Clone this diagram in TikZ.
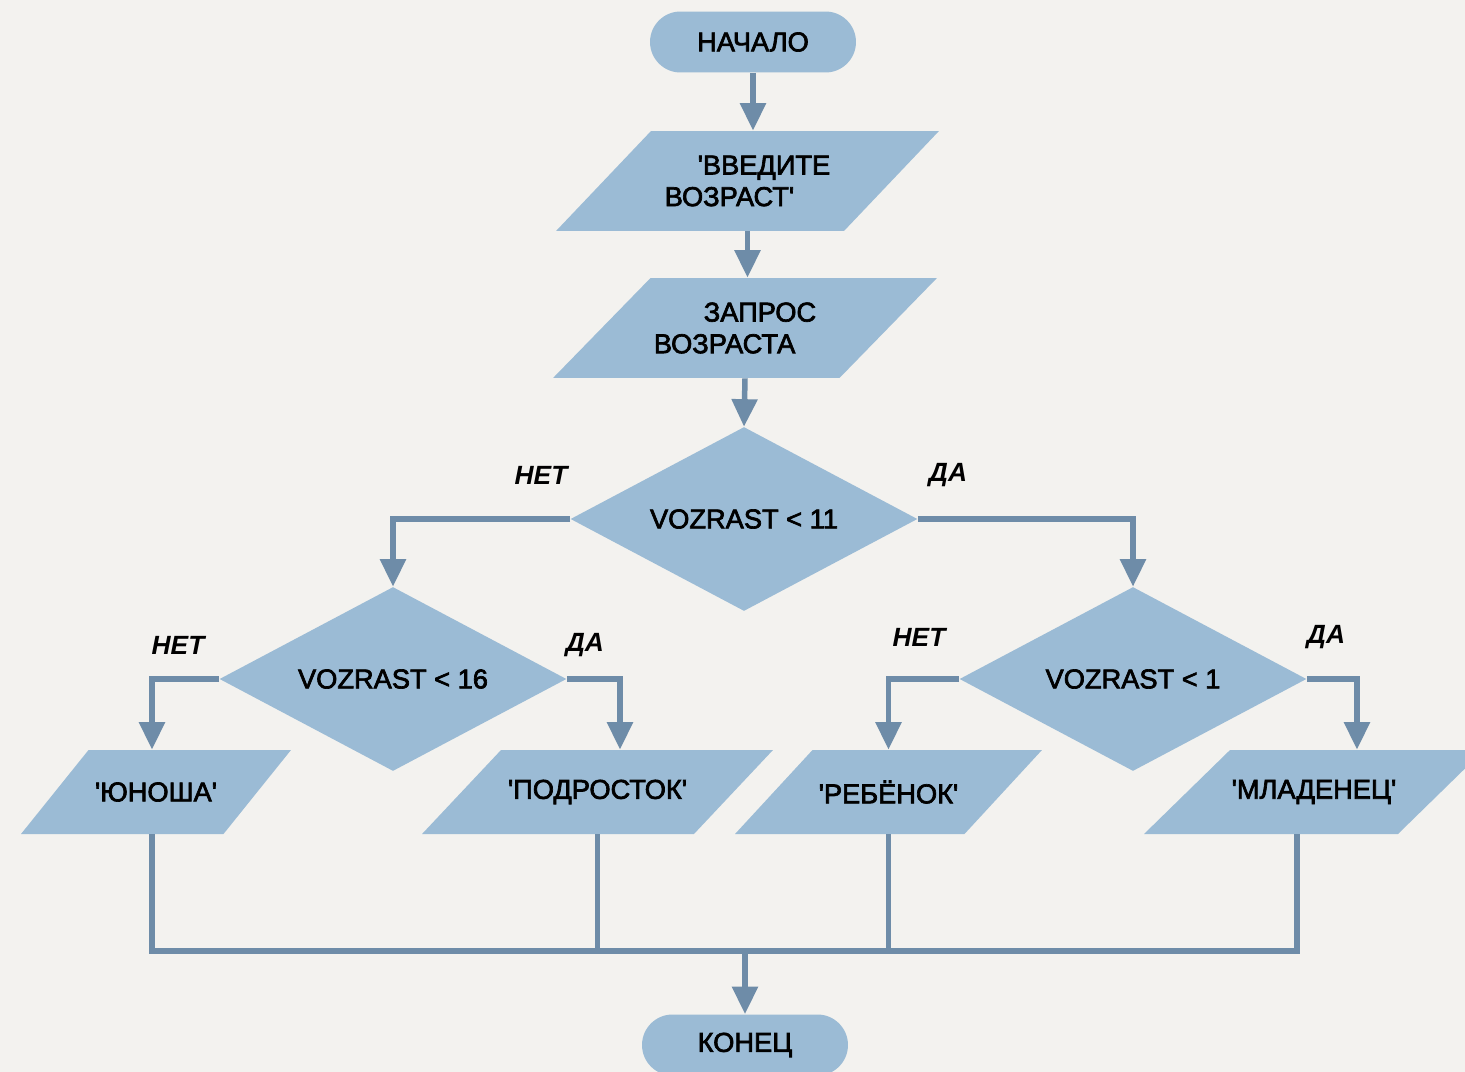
\documentclass[tikz,border=0pt]{standalone}
\usepackage{fontspec}
\newfontfamily\flowfont{Liberation Sans}[FakeBold=2.5]
\newfontfamily\answerfont{Liberation Sans}
\usetikzlibrary{shapes.geometric,arrows.meta}
\definecolor{paper}{HTML}{F3F2EF}
\definecolor{boxfill}{HTML}{9BBBD5}
\definecolor{linecol}{HTML}{6E8CA8}

\begin{document}
\begin{tikzpicture}[x=0.02cm,y=-0.02cm,
  font=\flowfont\fontsize{15.5}{18}\selectfont,
  io slant/.store in=\ioslant, io slant=1.55cm,
  term/.style={rectangle,rounded corners=0.61cm,fill=boxfill,minimum width=4.12cm,minimum height=1.22cm},
  io/.style={rectangle,inner sep=0pt,minimum height=1.68cm,align=left,
    path picture={\fill[boxfill] ([xshift=\ioslant]path picture bounding box.north west) -- (path picture bounding box.north east)
      -- ([xshift=-\ioslant]path picture bounding box.south east) -- (path picture bounding box.south west) -- cycle;}},
  cond/.style={diamond,aspect=1.89,fill=boxfill,inner sep=0pt,minimum width=6.94cm,minimum height=3.68cm},
  answer/.style={font=\answerfont\bfseries\itshape\fontsize{15}{18}\selectfont},
  flow/.style={draw=linecol,line width=0.11cm},
  arr/.style={flow,-{Triangle[width=0.5cm,length=0.55cm]}}]
\fill[paper,use as bounding box] (0,0) rectangle (1465,1072);
\node[term] (start) at (753,42) {НАЧАЛО};
\node[io,io slant=1.9cm,minimum width=7.66cm,minimum height=2cm] (ask) at (747.5,181) {\hspace*{0.66cm}'ВВЕДИТЕ\\ВОЗРАСТ'};
\node[io,io slant=1.95cm,minimum width=7.68cm,minimum height=2cm] (read) at (745,328) {\hspace*{1cm}ЗАПРОС\hspace*{0.4cm}\\ВОЗРАСТА};
\node[cond] (age11) at (744,519) {VOZRAST < 11};
\node[cond] (age16) at (393,679) {VOZRAST < 16};
\node[cond] (age1) at (1133,679) {VOZRAST < 1};
\node[io,io slant=1.35cm,minimum width=5.4cm] (youth) at (156,792) {'ЮНОША'};
\node[io,io slant=1.58cm,minimum width=7.02cm] (teen) at (597.5,792) {'ПОДРОСТОК'};
\node[io,minimum width=6.14cm] (child) at (888.5,792) {'РЕБЁНОК'};
\node[io,io slant=1.72cm,minimum width=6.8cm] (baby) at (1314,792) {'МЛАДЕНЕЦ'};
\node[term] (stop) at (745,1045) {КОНЕЦ};
\coordinate (join) at (745,951);
% branch labels
\node[answer] (no11) at (541,475) {НЕТ};
\node[answer] (yes11) at (948,475) {ДА};
\node[answer] (no16) at (178,645) {НЕТ};
\node[answer] (yes16) at (585,645) {ДА};
\node[answer] (no1) at (919,637) {НЕТ};
\node[answer] (yes1) at (1326,637) {ДА};
\draw[arr] (start.south) -- (start.south |- ask.north);
\draw[arr] (ask.south) -- (ask.south |- read.north);
\draw[arr] (read.south) -- (age11.north);
\draw[arr] (age11.west) -| (age16.north);
\draw[arr] (age11.east) -| (age1.north);
\draw[arr] (age16.west) -| ([xshift=-0.08cm]youth.north);
\draw[arr] (age16.east) -| ([xshift=0.45cm]teen.north);
\draw[arr] (age1.west) -| (child.north);
\draw[arr] (age1.east) -| ([xshift=0.86cm]baby.north);
% collecting line
\draw[flow] ([xshift=-0.08cm]youth.south) |- (join) -| ([xshift=-0.34cm]baby.south);
\draw[flow] (teen.south) -- (teen.south |- join);
\draw[flow] (child.south) -- (child.south |- join);
\draw[arr] (join) -- (stop.north);
\end{tikzpicture}
\end{document}
